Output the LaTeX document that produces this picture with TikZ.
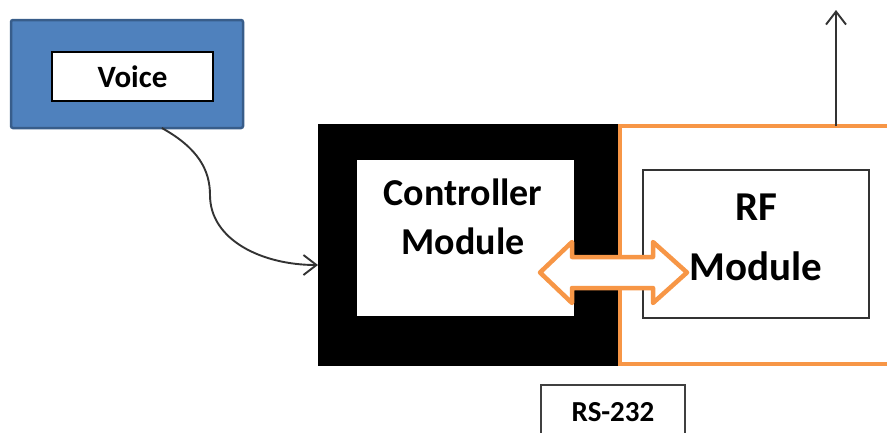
\documentclass[tikz,border=0pt]{standalone}
\usepackage{fontspec}
\setmainfont{Carlito}
\usetikzlibrary{arrows.meta,calc}
\definecolor{boxblue}{HTML}{4F81BD}
\definecolor{edgeblue}{HTML}{385D8A}
\definecolor{rforange}{HTML}{F79646}
\tikzset{
  blk/.style  = {inner sep=0pt, outer sep=0pt},
  lbl/.style  = {inner sep=0pt, align=center, text=black},
  wire/.style = {draw=black!80, line width=1.9pt,
                 -{Straight Barb[length=13pt, width=20pt]}}
}

\begin{document}
\begin{tikzpicture}[x=1pt, y=-1pt]
\useasboundingbox (0,0) rectangle (887,432);
\clip (0,0) rectangle (887,432);

% voice source
\node[blk, minimum width=232, minimum height=108, fill=boxblue,
      draw=edgeblue, line width=2.5pt, rounded corners=2pt] (voicebg) at (127,74) {};
\node[blk, minimum width=161, minimum height=49, fill=white, draw=black,
      line width=1.8pt, font=\fontsize{31}{36}\selectfont\bfseries] (voice) at (132.5,76.5) {Voice};

% controller (black frame) and rf (orange frame)
\node[blk, minimum width=300, minimum height=242, fill=black] (ctrlbg) at (468,245) {};
\node[blk, minimum width=217, minimum height=156, fill=white] (ctrl) at (465.5,238) {};
\node[lbl, font=\fontsize{38}{49}\selectfont\bfseries] (ctrllbl) at (463,217) {Controller\\Module};

\node[blk, minimum width=280.5, minimum height=238, draw=rforange,
      line width=4pt] (rfbg) at (759.75,245) {};
\node[blk, minimum width=226, minimum height=148, fill=white, draw=black!80,
      line width=1.5pt] (rf) at (756,244) {};
\node[lbl, font=\fontsize{41}{60}\selectfont\bfseries] (rflbl) at (756,237) {RF\\Module};

% serial link between the two modules
\draw[draw=rforange, line width=4.5pt, fill=white, line join=round]
  (540,272.5) -- (572,242) -- (572,257) -- (653,257) -- (653,242) -- (687,272.5)
  -- (653,303) -- (653,288) -- (572,288) -- (572,303) -- cycle;

\node[blk, minimum width=144, minimum height=55, fill=white, draw=black!75,
      line width=2pt, font=\fontsize{29}{34}\selectfont\bfseries] (rs) at (613,412.5) {RS-232};

% connectors
\coordinate (vout) at ($(voicebg.south west)!0.65!(voicebg.south east)$);
\coordinate (cin)  at ($(ctrlbg.west)+(0,20)$);
\coordinate (ant)  at (836,10);
\draw[wire] (vout) .. controls (198,148) and (210,170) .. (210,195)
  .. controls (210,240) and (262,265) .. (cin);
\draw[wire] (rfbg.north -| ant) -- (ant); % antenna
\end{tikzpicture}
\end{document}
